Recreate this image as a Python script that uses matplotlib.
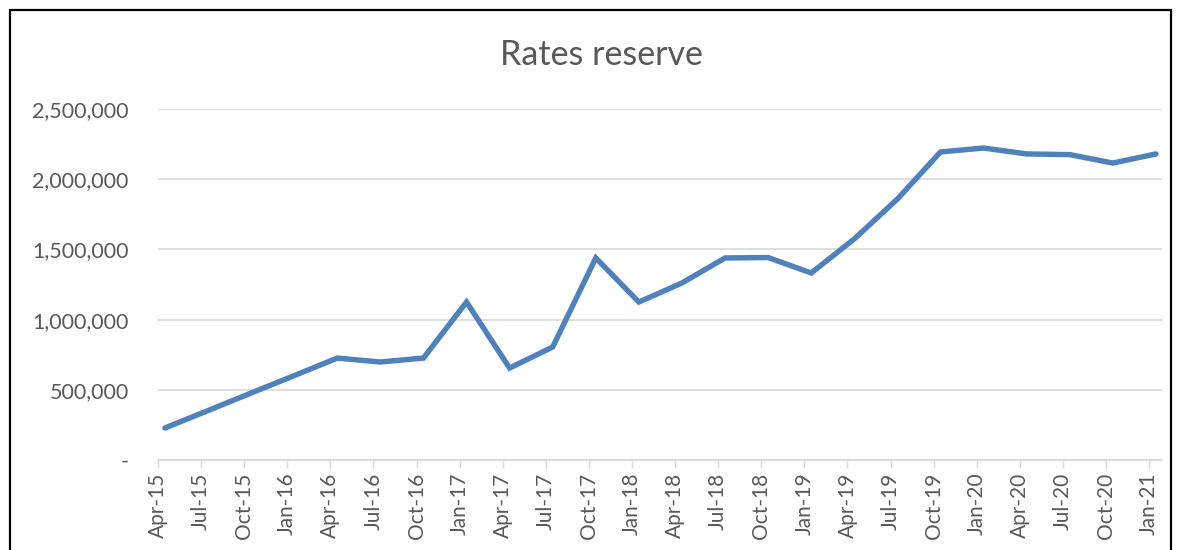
import matplotlib
matplotlib.use("Agg")
import matplotlib.pyplot as plt
from matplotlib.patches import Rectangle
from matplotlib.ticker import FuncFormatter

quarters = ["Apr-15", "Jul-15", "Oct-15", "Jan-16", "Apr-16", "Jul-16", "Oct-16", "Jan-17",
            "Apr-17", "Jul-17", "Oct-17", "Jan-18", "Apr-18", "Jul-18", "Oct-18", "Jan-19",
            "Apr-19", "Jul-19", "Oct-19", "Jan-20", "Apr-20", "Jul-20", "Oct-20", "Jan-21"]
reserve = [228000, 352000, 477000, 601000, 726000, 698000, 726000, 1125000,
           655000, 805000, 1439000, 1125000, 1261000, 1439000, 1442000, 1332000,
           1575000, 1859000, 2194000, 2222000, 2180000, 2175000, 2115000, 2180000]
y_ticks = [0, 500000, 1000000, 1500000, 2000000, 2500000]

font = ["Lato", "DejaVu Sans"]
text_color = "#595959"

fig = plt.figure(figsize=(11.81, 5.5), dpi=100)
ax = fig.add_axes([158/1181, 1-460/550, (1162-158)/1181, (460-109)/550])

xpos = [i + 0.16 for i in range(len(quarters))]
ax.plot(xpos, reserve, color="#4F81BD", linewidth=3.9, solid_capstyle="round",
        solid_joinstyle="miter")

ax.set_xlim(0, 23.3)
ax.set_ylim(0, 2500000)
ax.set_yticks(y_ticks)
ax.yaxis.set_major_formatter(FuncFormatter(lambda v, p: "-" if v == 0 else f"{int(v):,}"))
ax.set_xticks(range(len(quarters)))
ax.set_xticklabels(quarters, rotation=90, fontfamily=font, fontsize=15, color=text_color)
for lab in ax.get_yticklabels():
    lab.set_fontfamily(font)
ax.tick_params(axis="y", length=0, pad=21, labelsize=15.5, labelcolor=text_color)
ax.tick_params(axis="x", length=6, width=1, color="#D9D9D9", pad=3)

ax.grid(axis="y", color="#D9D9D9", linewidth=1.2)
ax.set_axisbelow(True)
for s in ["top", "right", "left"]:
    ax.spines[s].set_visible(False)
ax.spines["bottom"].set_color("#D9D9D9")
ax.spines["bottom"].set_linewidth(1.2)

fig.text(601/1181, 1-55/550, "Rates reserve", ha="center", va="center",
         fontsize=24.5, color=text_color, fontfamily=font)

fig.patches.append(Rectangle((10/1181, -0.1), (1171-10)/1181, 1.1 - 10/550,
                             transform=fig.transFigure, fill=False, edgecolor="black",
                             linewidth=1.6))

fig.savefig("out.png", dpi=100)
